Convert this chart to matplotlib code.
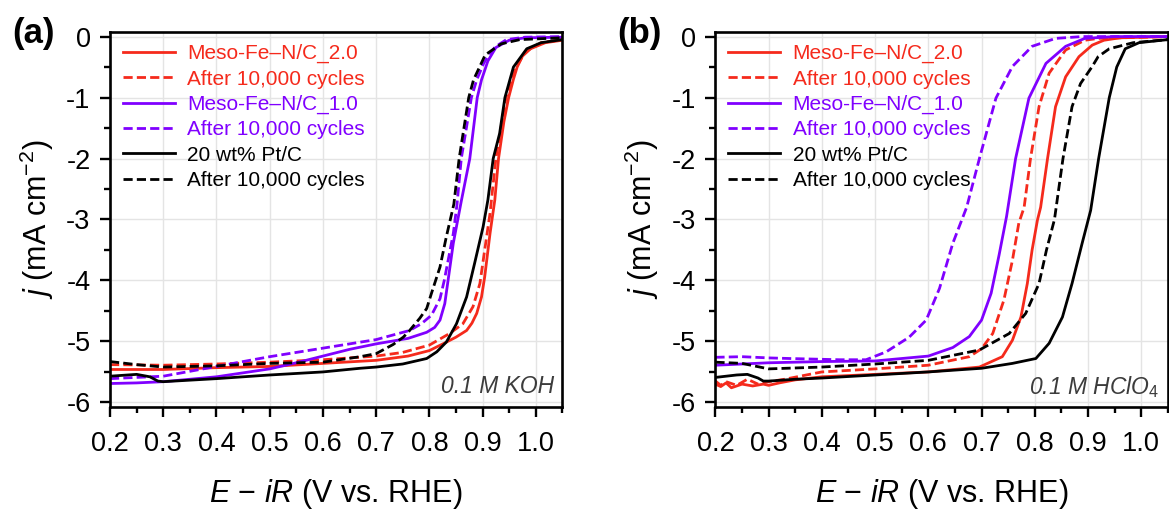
#ORR polarisation curves, two electrolytes side by side
import matplotlib
matplotlib.use('Agg')
import matplotlib.pyplot as plt
from matplotlib.ticker import MultipleLocator, FormatStrFormatter

plt.rcParams['font.family'] = ['Liberation Sans', 'DejaVu Sans']
plt.rcParams['mathtext.fontset'] = 'custom'
plt.rcParams['mathtext.rm'] = 'Liberation Sans'
plt.rcParams['mathtext.it'] = 'Liberation Sans:italic'
plt.rcParams['axes.unicode_minus'] = False

#Series names, same in both panels
labels = ['Meso-Fe\u2013N/C_2.0', 'After 10,000 cycles',
          'Meso-Fe\u2013N/C_1.0', 'After 10,000 cycles',
          '20 wt% Pt/C', 'After 10,000 cycles']

#Panel (a): 0.1 M KOH
koh_fe2_x = [0.20, 0.30, 0.40, 0.50, 0.60, 0.70, 0.76, 0.80, 0.83, 0.85, 0.87, 0.88, 0.889, 0.898, 0.904,
             0.914, 0.923, 0.930, 0.940, 0.949, 0.958, 0.965, 0.975, 0.990, 1.018, 1.05]
koh_fe2_y = [-5.46, -5.46, -5.43, -5.41, -5.36, -5.31, -5.24, -5.15, -5.02, -4.93, -4.82, -4.70, -4.54, -4.27, -3.94,
             -3.23, -2.68, -2.0, -1.4, -1.0, -0.7, -0.5, -0.32, -0.2, -0.1, -0.06]
koh_fe2_aft_x = [0.20, 0.30, 0.40, 0.50, 0.60, 0.70, 0.75, 0.80, 0.838, 0.863, 0.882, 0.895, 0.904, 0.914,
                 0.925, 0.944, 0.960, 0.980, 1.01, 1.05]
koh_fe2_aft_y = [-5.38, -5.39, -5.37, -5.34, -5.30, -5.24, -5.18, -5.06, -4.87, -4.71, -4.43, -4.05, -3.50, -2.90,
                 -2.0, -1.0, -0.55, -0.25, -0.1, -0.05]
koh_fe1_x = [0.20, 0.25, 0.30, 0.40, 0.50, 0.55, 0.60, 0.65, 0.70, 0.76, 0.795, 0.810, 0.820, 0.829, 0.835,
             0.845, 0.860, 0.876, 0.890, 0.898, 0.910, 0.925, 0.95, 0.98, 1.05]
koh_fe1_y = [-5.69, -5.68, -5.66, -5.58, -5.45, -5.35, -5.24, -5.13, -5.04, -4.95, -4.85, -4.77, -4.65, -4.38, -4.01,
             -3.39, -2.70, -2.0, -1.0, -0.71, -0.4, -0.18, -0.06, -0.02, -0.01]
koh_fe1_aft_x = [0.20, 0.30, 0.40, 0.50, 0.60, 0.70, 0.763, 0.785, 0.804, 0.820, 0.828, 0.845, 0.852, 0.860,
                 0.869, 0.879, 0.889, 0.902, 0.913, 0.925, 0.945, 0.98, 1.05]
koh_fe1_aft_y = [-5.61, -5.57, -5.41, -5.25, -5.11, -4.97, -4.82, -4.71, -4.57, -4.30, -4.0, -3.23, -2.75, -2.0,
                 -1.53, -1.0, -0.71, -0.44, -0.28, -0.16, -0.05, -0.01, 0.0]
koh_pt_x = [0.20, 0.25, 0.275, 0.29, 0.30, 0.40, 0.50, 0.60, 0.67, 0.70, 0.75, 0.795, 0.814, 0.832, 0.851,
            0.870, 0.885, 0.901, 0.910, 0.920, 0.932, 0.942, 0.958, 0.983, 1.01, 1.05]
koh_pt_y = [-5.57, -5.54, -5.58, -5.65, -5.66, -5.61, -5.55, -5.50, -5.44, -5.42, -5.37, -5.28, -5.17, -5.01, -4.71,
            -4.27, -3.72, -3.12, -2.68, -2.0, -1.59, -1.0, -0.5, -0.2, -0.1, -0.05]
koh_pt_aft_x = [0.20, 0.25, 0.30, 0.40, 0.50, 0.60, 0.67, 0.70, 0.732, 0.751, 0.763, 0.782, 0.795, 0.804,
                0.820, 0.832, 0.846, 0.856, 0.874, 0.883, 0.905, 0.935, 0.97, 1.05]
koh_pt_aft_y = [-5.33, -5.38, -5.42, -5.40, -5.36, -5.34, -5.25, -5.20, -5.05, -4.93, -4.82, -4.62, -4.46, -4.21,
                -3.78, -3.28, -2.75, -2.0, -1.0, -0.71, -0.3, -0.12, -0.05, -0.02]

#Panel (b): 0.1 M HClO4
acid_fe2_x = [0.20, 0.21, 0.22, 0.23, 0.25, 0.27, 0.29, 0.30, 0.32, 0.35, 0.40, 0.50, 0.60, 0.696, 0.739,
              0.758, 0.774, 0.786, 0.795, 0.805, 0.811, 0.824, 0.839, 0.858, 0.883, 0.908, 0.93, 0.96, 1.05]
acid_fe2_y = [-5.70, -5.74, -5.68, -5.76, -5.70, -5.73, -5.70, -5.72, -5.68, -5.63, -5.58, -5.54, -5.50, -5.42, -5.25,
              -4.98, -4.60, -4.05, -3.50, -3.01, -2.80, -2.0, -1.15, -0.66, -0.33, -0.14, -0.06, -0.02, 0.0]
acid_fe2_aft_x = [0.20, 0.21, 0.22, 0.24, 0.26, 0.28, 0.30, 0.33, 0.40, 0.50, 0.60, 0.677, 0.70, 0.721, 0.742,
                  0.758, 0.770, 0.780, 0.792, 0.808, 0.827, 0.858, 0.894, 0.92, 1.05]
acid_fe2_aft_y = [-5.65, -5.72, -5.66, -5.72, -5.62, -5.70, -5.66, -5.62, -5.50, -5.45, -5.39, -5.25, -5.12, -4.87, -4.32,
                  -3.67, -3.06, -2.80, -2.0, -1.15, -0.60, -0.22, -0.06, -0.03, 0.0]
acid_fe1_x = [0.20, 0.25, 0.30, 0.40, 0.50, 0.60, 0.646, 0.677, 0.700, 0.718, 0.733, 0.747, 0.764, 0.789,
              0.821, 0.858, 0.894, 0.95, 1.05]
acid_fe1_y = [-5.39, -5.37, -5.35, -5.33, -5.32, -5.24, -5.10, -4.92, -4.65, -4.21, -3.58, -2.95, -2.0, -1.01,
              -0.44, -0.16, -0.03, 0.0, 0.0]
acid_fe1_aft_x = [0.20, 0.25, 0.30, 0.34, 0.433, 0.483, 0.521, 0.564, 0.596, 0.621, 0.646, 0.672, 0.696, 0.727,
                  0.758, 0.795, 0.839, 0.889, 1.05]
acid_fe1_aft_y = [-5.26, -5.25, -5.27, -5.28, -5.30, -5.30, -5.17, -4.93, -4.65, -4.13, -3.39, -2.80, -2.0, -1.01,
                  -0.49, -0.16, -0.03, 0.0, 0.0]
acid_pt_x = [0.20, 0.24, 0.26, 0.28, 0.29, 0.30, 0.35, 0.40, 0.50, 0.60, 0.70, 0.758, 0.802, 0.827, 0.852,
             0.870, 0.889, 0.905, 0.920, 0.940, 0.954, 0.970, 0.996, 1.05]
acid_pt_y = [-5.59, -5.55, -5.54, -5.60, -5.65, -5.65, -5.62, -5.60, -5.55, -5.50, -5.44, -5.36, -5.28, -5.03, -4.60,
             -4.05, -3.39, -2.85, -2.0, -1.0, -0.5, -0.2, -0.1, -0.05]
acid_pt_aft_x = [0.20, 0.25, 0.30, 0.40, 0.50, 0.60, 0.696, 0.752, 0.783, 0.808, 0.822, 0.837, 0.853, 0.870,
                 0.886, 0.908, 0.919, 0.94, 0.985, 1.05]
acid_pt_aft_y = [-5.34, -5.36, -5.45, -5.42, -5.37, -5.31, -5.14, -4.87, -4.54, -4.05, -3.50, -3.0, -2.0, -1.15,
                 -0.77, -0.49, -0.33, -0.2, -0.1, -0.05]

RED = '#f52a1c'
PURPLE = '#8000ff'
colors = [RED, RED, PURPLE, PURPLE, 'black', 'black']
dashed = [False, True, False, True, False, True]

panels = [
    ('(a)', '0.1 M KOH',
     [(koh_fe2_x, koh_fe2_y), (koh_fe2_aft_x, koh_fe2_aft_y), (koh_fe1_x, koh_fe1_y),
      (koh_fe1_aft_x, koh_fe1_aft_y), (koh_pt_x, koh_pt_y), (koh_pt_aft_x, koh_pt_aft_y)]),
    ('(b)', '0.1 M HClO$_4$',
     [(acid_fe2_x, acid_fe2_y), (acid_fe2_aft_x, acid_fe2_aft_y), (acid_fe1_x, acid_fe1_y),
      (acid_fe1_aft_x, acid_fe1_aft_y), (acid_pt_x, acid_pt_y), (acid_pt_aft_x, acid_pt_aft_y)]),
]

fig = plt.figure(figsize=(11.69, 5.12), dpi=100)
axes_left = [0.0941, 0.612]

for i, (tag, electrolyte, series) in enumerate(panels):
    ax = fig.add_axes([axes_left[i], 0.2045, 0.3870, 0.7336])
    for (xs, ys), c, d, lab in zip(series, colors, dashed, labels):
        if d:
            ax.plot(xs, ys, color=c, lw=2.0, dashes=(3.3, 1.5), label=lab)
        else:
            ax.plot(xs, ys, color=c, lw=2.0, label=lab)

    ax.set_xlim(0.2, 1.05)
    ax.set_ylim(-6.08, 0.08)
    ax.xaxis.set_major_locator(MultipleLocator(0.1))
    ax.xaxis.set_minor_locator(MultipleLocator(0.05))
    ax.yaxis.set_major_locator(MultipleLocator(1))
    ax.yaxis.set_minor_locator(MultipleLocator(0.5))
    ax.xaxis.set_major_formatter(FormatStrFormatter('%.1f'))
    ax.yaxis.set_major_formatter(FormatStrFormatter('%d'))
    ax.grid(True, which='major', color='#e4e4e4', lw=1.0)
    ax.set_axisbelow(True)
    for s in ax.spines.values():
        s.set_linewidth(1.9)
    ax.tick_params(which='major', direction='out', length=7, width=1.7, labelsize=19.5)
    ax.tick_params(axis='x', which='major', pad=10)
    ax.tick_params(axis='y', which='major', pad=7)
    ax.tick_params(which='minor', direction='out', length=4.5, width=1.7)

    ax.set_xlabel('$E$ \u2212 $iR$ (V vs. RHE)', fontsize=22)
    ax.set_ylabel('$j$ (mA cm$^{-2}$)', fontsize=22)
    ax.xaxis.set_label_coords(0.5, -0.185)
    ax.yaxis.set_label_coords(-0.12, 0.5)

    ax.legend(loc='upper left', frameon=False, fontsize=15, handlelength=2.5,
              handletextpad=0.6, labelspacing=0.3, borderaxespad=0.2,
              labelcolor='linecolor')

    ax.text(0.982, 0.055, electrolyte, transform=ax.transAxes, ha='right', va='center',
            fontsize=16.5, style='italic', color='#3c3c3c')

    fig.text(axes_left[i] - 0.084, 0.935, tag, fontsize=25, fontweight='bold', va='center')

fig.savefig('out.png', dpi=100)
